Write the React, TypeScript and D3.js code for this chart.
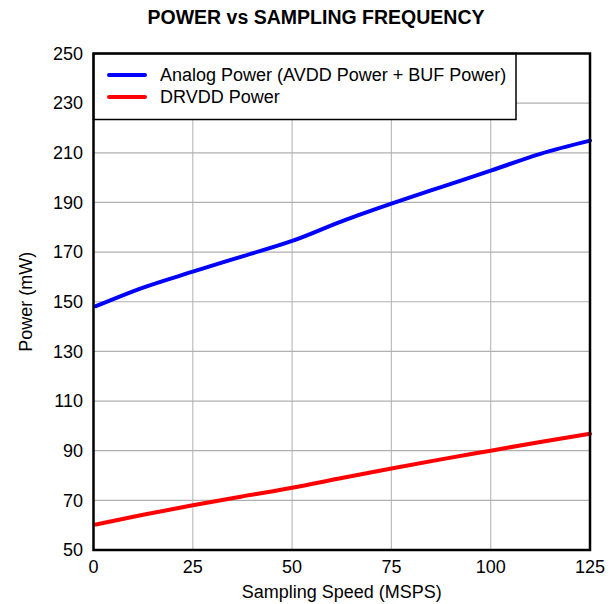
import React from "react";
import * as d3 from "d3";

const speeds = [0.6, 12.5, 25, 37.5, 50, 62.5, 75, 87.5, 100, 112.5, 125];
const analogPower = [148.2, 155.7, 162.1, 168.3, 174.5, 182.4, 189.5, 196.2, 202.8, 209.6, 214.9];
const drvddPower = [60.3, 64.2, 68.0, 71.6, 75.1, 79.0, 82.8, 86.5, 90.0, 93.5, 96.8];
const xTicks = [0, 25, 50, 75, 100, 125];
const yTicks = [50, 70, 90, 110, 130, 150, 170, 190, 210, 230, 250];
const legendLabels = ["Analog Power (AVDD Power + BUF Power)", "DRVDD Power"];
const seriesColors = ["#0000ff", "#ff0000"];

const W = 613;
const H = 604;
const M = { left: 93.5, right: 590, top: 53.5, bottom: 550 };
const FONT = "'Liberation Sans', Arial, sans-serif";

export default function App() {
  const x = d3.scaleLinear().domain([0, 125]).range([M.left, M.right]);
  const y = d3.scaleLinear().domain([50, 250]).range([M.bottom, M.top]);
  const line = d3
    .line<number>()
    .x((_, i) => x(speeds[i]))
    .y((d) => y(d))
    .curve(d3.curveMonotoneX);
  const series = [analogPower, drvddPower];

  return (
    <svg
      width={W}
      height={H}
      style={{ position: "absolute", left: 0, top: 0, background: "#fff" }}
      fontFamily={FONT}
    >
      <rect x={0} y={0} width={W} height={H} fill="#fff" />
      <text x={316} y={24} textAnchor="middle" fontSize={19.5} fontWeight="bold" fill="#000">
        POWER vs SAMPLING FREQUENCY
      </text>
      {xTicks.map((t) => (
        <line key={"gx" + t} x1={x(t)} x2={x(t)} y1={M.top} y2={M.bottom} stroke="#bdbdbd" strokeWidth={1.2} />
      ))}
      {yTicks.map((t) => (
        <line key={"gy" + t} x1={M.left} x2={M.right} y1={y(t)} y2={y(t)} stroke="#b0b0b0" strokeWidth={1.2} />
      ))}
      {series.map((s, i) => (
        <path
          key={"s" + i}
          d={line(s) || ""}
          fill="none"
          stroke={seriesColors[i]}
          strokeWidth={4}
          strokeLinecap="round"
          strokeLinejoin="round"
        />
      ))}
      <rect x={M.left} y={M.top} width={516 - M.left} height={119.5 - M.top} fill="#fff" stroke="#000" strokeWidth={1.5} />
      {legendLabels.map((lab, i) => (
        <g key={"lg" + i}>
          <line x1={109} x2={145} y1={75 + i * 22} y2={75 + i * 22} stroke={seriesColors[i]} strokeWidth={4} strokeLinecap="round" />
          <text x={160} y={75 + i * 22} dy="0.35em" fontSize={18} fill="#000">
            {lab}
          </text>
        </g>
      ))}
      <rect x={M.left} y={M.top} width={M.right - M.left} height={M.bottom - M.top} fill="none" stroke="#000" strokeWidth={2.5} />
      {yTicks.map((t) => (
        <text key={"ty" + t} x={83} y={y(t)} dy="0.35em" textAnchor="end" fontSize={18} fill="#000">
          {t}
        </text>
      ))}
      {xTicks.map((t) => (
        <text key={"tx" + t} x={x(t)} y={567} dy="0.35em" textAnchor="middle" fontSize={18} fill="#000">
          {t}
        </text>
      ))}
      <text x={(M.left + M.right) / 2} y={592} dy="0.35em" textAnchor="middle" fontSize={18} fill="#000">
        Sampling Speed (MSPS)
      </text>
      <text
        transform={`translate(26,${(M.top + M.bottom) / 2}) rotate(-90)`}
        dy="0.35em"
        textAnchor="middle"
        fontSize={18}
        fill="#000"
      >
        Power (mW)
      </text>
    </svg>
  );
}
